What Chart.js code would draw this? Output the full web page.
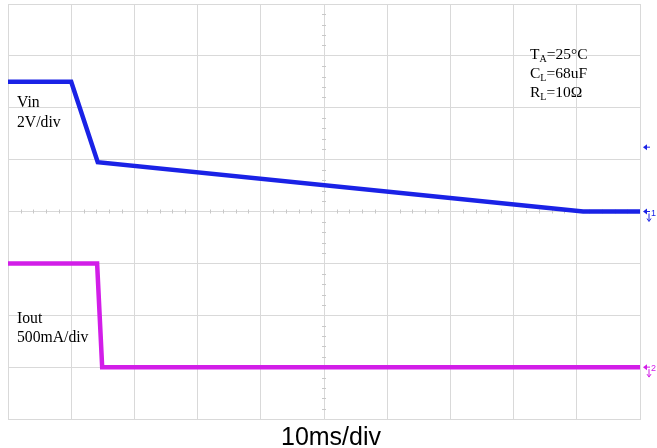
<!DOCTYPE html>
<html>
<head>
<meta charset="utf-8">
<script src="https://cdn.jsdelivr.net/npm/chart.js@4"></script>
<style>
html,body{margin:0;padding:0;background:#fff;}
#wrap{width:657px;height:448px;position:relative;}
</style>
</head>
<body>
<div id="wrap"><canvas id="c"></canvas></div>
<script>
// Time in ms (10 ms/div, 10 divisions)
const vinTime = [0, 10.0, 14.2, 91.0, 100];
const vinValues = [5.0, 5.0, 1.9, 0.0, 0.0];          // volts (2 V/div, ground at div 4)
const ioutTime = [0, 14.1, 14.9, 100];
const ioutValues = [1.0, 1.0, 0.0, 0.0];               // amps (500 mA/div, ground at div 1)
const vinLabel = ['Vin', '2V/div'];
const ioutLabel = ['Iout', '500mA/div'];
const xTitle = '10ms/div';

const BLUE = '#1a22e6';
const MAGENTA = '#d21ee8';
const GRID = '#d9d9d9';
const SERIF = '"Liberation Serif", "Times New Roman", serif';

function pts(xs, ys){ return xs.map((x,i)=>({x:x, y:ys[i]})); }

const overlay = {
  id: 'overlay',
  beforeDatasetsDraw(chart){
    const ctx = chart.ctx, x = chart.scales.x, g = chart.scales.g;
    ctx.save();
    ctx.strokeStyle = '#c8c8c8';
    ctx.lineWidth = 1;
    const cy = g.getPixelForValue(4), cx = x.getPixelForValue(50);
    for (let t = 0; t <= 100; t += 2) {
      if (t % 10 === 0) continue;
      const px = Math.round(x.getPixelForValue(t)) + 0.5;
      ctx.beginPath(); ctx.moveTo(px, cy - 2); ctx.lineTo(px, cy + 2); ctx.stroke();
    }
    for (let d = 0; d <= 8; d += 0.2) {
      if (Math.abs(d - Math.round(d)) < 0.01) continue;
      const py = Math.round(g.getPixelForValue(d)) + 0.5;
      ctx.beginPath(); ctx.moveTo(cx - 2, py); ctx.lineTo(cx + 2, py); ctx.stroke();
    }
    ctx.restore();
  },
  afterDraw(chart){
    const ctx = chart.ctx, v = chart.scales.v, i = chart.scales.i, a = chart.chartArea;
    ctx.save();
    ctx.fillStyle = '#000';
    ctx.textBaseline = 'alphabetic';
    ctx.font = '15.7px ' + SERIF;
    ctx.fillText(vinLabel[0], 17, 107);
    ctx.fillText(vinLabel[1], 17, 127);
    ctx.fillText(ioutLabel[0], 17, 323);
    ctx.fillText(ioutLabel[1], 17, 342);
    // x title
    ctx.font = '25px "Liberation Sans", Arial, sans-serif';
    ctx.textAlign = 'center';
    ctx.fillText(xTitle, 331, 445);
    ctx.textAlign = 'left';
    // conditions with subscripts
    function sub(x, y, main, s, rest){
      ctx.font = '15.5px ' + SERIF;
      ctx.fillText(main, x, y); x += ctx.measureText(main).width;
      ctx.font = '10px ' + SERIF;
      ctx.fillText(s, x, y + 3); x += ctx.measureText(s).width;
      ctx.font = '15.5px ' + SERIF;
      ctx.fillText(rest, x, y);
    }
    sub(530, 59, 'T', 'A', '=25°C');
    sub(530, 78, 'C', 'L', '=68uF');
    sub(530, 97, 'R', 'L', '=10Ω');
    // channel markers on the right
    function marker(y, col, label){
      ctx.fillStyle = col; ctx.strokeStyle = col; ctx.lineWidth = 1;
      const x0 = a.right + 3;
      ctx.beginPath(); ctx.moveTo(x0, y); ctx.lineTo(x0 + 4, y - 3); ctx.lineTo(x0 + 4, y + 3); ctx.closePath(); ctx.fill();
      ctx.beginPath(); ctx.moveTo(x0 + 3, y); ctx.lineTo(x0 + 7, y); ctx.stroke();
      if (label) {
        ctx.font = '9px "Liberation Sans", sans-serif';
        ctx.fillText(label, x0 + 8, y + 4);
        ctx.beginPath(); ctx.moveTo(x0 + 6, y + 2); ctx.lineTo(x0 + 6, y + 9); ctx.stroke();
        ctx.beginPath(); ctx.moveTo(x0 + 4, y + 7); ctx.lineTo(x0 + 6, y + 10); ctx.lineTo(x0 + 8, y + 7); ctx.stroke();
      }
    }
    marker(chart.scales.g.getPixelForValue(5.24), BLUE, '');
    marker(v.getPixelForValue(0), BLUE, '1');
    marker(i.getPixelForValue(0), MAGENTA, '2');
    ctx.restore();
  }
};

new Chart(document.getElementById('c'), {
  type: 'line',
  data: {
    datasets: [
      { data: pts(vinTime, vinValues), yAxisID: 'v', borderColor: BLUE, borderWidth: 4.5, pointRadius: 0, tension: 0, fill: false },
      { data: pts(ioutTime, ioutValues), yAxisID: 'i', borderColor: MAGENTA, borderWidth: 4.5, pointRadius: 0, tension: 0, fill: false }
    ]
  },
  options: {
    responsive: true,
    maintainAspectRatio: false,
    animation: false,
    layout: { padding: { left: 8, right: 17, top: 4, bottom: 29 } },
    plugins: { legend: { display: false }, tooltip: { enabled: false } },
    scales: {
      x: {
        type: 'linear', min: 0, max: 100,
        ticks: { display: false, stepSize: 10 },
        grid: { color: GRID, drawTicks: false, lineWidth: 1 },
        border: { display: true, color: GRID }
      },
      g: {
        type: 'linear', position: 'left', min: 0, max: 8,
        ticks: { display: false, stepSize: 1 },
        grid: { color: GRID, drawTicks: false, lineWidth: 1 },
        border: { display: true, color: GRID }
      },
      v: { type: 'linear', display: false, min: -8, max: 8 },
      i: { type: 'linear', display: false, min: -0.5, max: 3.5 }
    }
  },
  plugins: [overlay]
});
</script>
</body>
</html>
